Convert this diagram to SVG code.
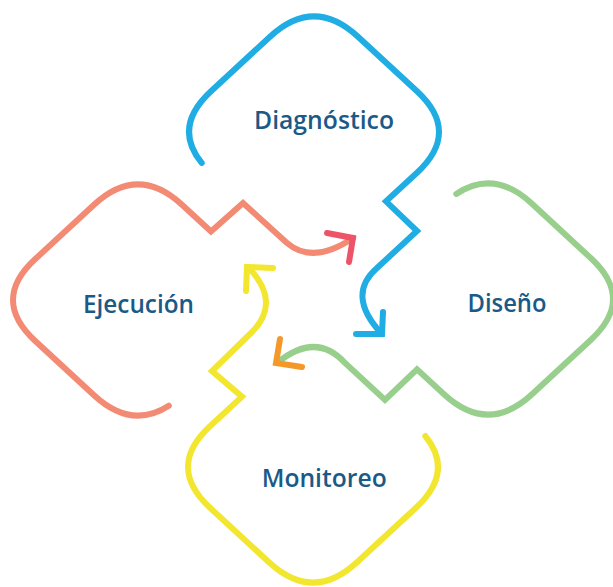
<svg xmlns="http://www.w3.org/2000/svg" width="613" height="587" viewBox="0 0 613 587">
<style>
.ln{fill:none;stroke-width:6;stroke-linecap:round;stroke-linejoin:miter}
.lbl{font-family:"Segoe UI","Open Sans","Noto Sans",sans-serif;font-weight:600;font-size:26px;fill:#1b5a87;text-anchor:middle}
</style>
<rect width="613" height="587" fill="#ffffff"/>
<g id="diagnostico">
<path class="ln" stroke="#1fade4" d="M201.7 162.9 Q172.3 127.1 211 91.3 L270 36.7 Q314 -4 358 36.7 L417 91.3 Q461 132 417 172.7 L386 201.4 L417 231 L377 268 Q346 295 381 333"/>
<text class="lbl" x="324" y="128.5" textLength="140" lengthAdjust="spacingAndGlyphs">Diagnóstico</text>
</g>
<g id="diseno">
<path class="ln" stroke="#98cf8c" d="M456.3 193.9 Q494.2 168.7 532 203.7 L591 258.3 Q635 299 591 339.7 L532 394.3 Q488 435 444 394.3 L417 369.3 L385 400 L345 363 Q316 331 277 363"/>
<text class="lbl" x="507" y="311.5" textLength="79" lengthAdjust="spacingAndGlyphs">Diseño</text>
</g>
<g id="monitoreo">
<path class="ln" stroke="#f2e62e" d="M425.3 436 Q454.7 471.9 416 507.7 L357 562.3 Q313 603 269 562.3 L210 507.7 Q166 467 210 426.3 L242 396.7 L212 371 L250 334 Q283 303 248 267"/>
<text class="lbl" x="324.2" y="486.7" textLength="125" lengthAdjust="spacingAndGlyphs">Monitoreo</text>
</g>
<g id="ejecucion">
<path class="ln" stroke="#f38a73" d="M168.8 405.7 Q131.4 429.9 94 395.3 L35 340.7 Q-9 300 35 259.3 L94 204.7 Q138 164 182 204.7 L211 231.5 L243 203 L287 243 Q313 265 353 238"/>
<text class="lbl" x="138.5" y="313.3" textLength="111" lengthAdjust="spacingAndGlyphs">Ejecución</text>
</g>
<g id="connectors">
<polyline class="ln" stroke="#1fade4" points="356,334 382,334 383,312"/>
<polyline class="ln" stroke="#f4982a" points="280,339 276,363 302,367"/>
<polyline class="ln" stroke="#f2e62e" points="246,291 247,267 273,268"/>
<polyline class="ln" stroke="#ee5468" points="327,233 353,238 349,262"/>
</g>
</svg>
